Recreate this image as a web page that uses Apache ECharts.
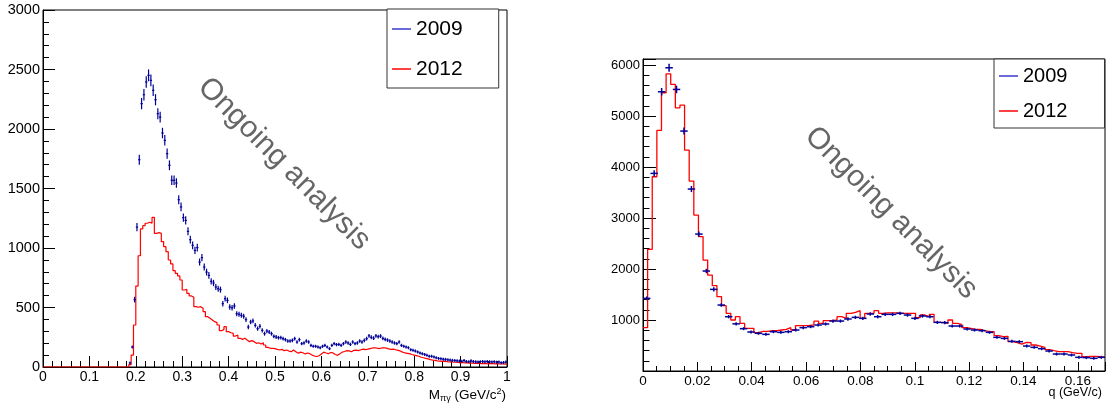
<!DOCTYPE html>
<html><head><meta charset="utf-8">
<script src="https://cdn.jsdelivr.net/npm/echarts@6/dist/echarts.min.js"></script>
<style>html,body{margin:0;padding:0;background:#fff}#c{width:1108px;height:407px}</style>
</head><body><div id="c"></div>
<script>
// ---------- DATA ----------
const seriesNames = ['2009', '2012'];
const massRange = [0, 1];          // M_pi gamma (GeV/c^2), 200 bins
const qRange = [0, 0.17];          // q (GeV/c)
const massTicks = ['0','0.1','0.2','0.3','0.4','0.5','0.6','0.7','0.8','0.9','1'];
const qTicks = ['0','0.02','0.04','0.06','0.08','0.1','0.12','0.14','0.16'];
const massCountTicks = ['0','500','1000','1500','2000','2500','3000'];
const qCountTicks = ['1000','2000','3000','4000','5000','6000'];

const mass2009 = [
0,0,0,0,0,0,0,0,0,0, 0,0,0,0,0,0,0,0,0,0, 0,0,0,0,0,0,0,0,0,0, 0,0,0,0,0,0,0,
34,168,566,
1176,1742,2213,2288,2395,2451,2409,2325,2246,2129,
2100,1966,1905,1793,1695,1569,1569,1546,1406,1345,
1255,1232,1140,1070,1022,980,1003,882,919,840,
798,770,720,706,672,658,650,532,574,560,
504,498,513,448,443,434,426,398,336,378,
387,350,322,342,308,280,302,294,280,258,
252,246,246,238,230,218,218,224,238,210,
230,196,202,218,210,182,174,174,168,162,
174,182,168,154,182,196,188,190,182,196,
210,202,190,210,196,202,218,210,224,238,
262,250,242,262,255,260,240,232,226,218,
210,202,196,210,182,174,168,162,146,140,
134,126,118,112,106,98,90,90,84,78,
72,70,66,64,60,58,56,54,52,50,
48,55,46,44,52,46,44,42,45,46,
44,46,44,42,45,40,42,36,38,42
];

const mass2012 = [
0,0,0,0,0,0,0,0,0,0, 0,0,0,0,0,0,0,0,0,0, 0,0,0,0,0,0,0,0,0,0, 0,0,0,0,0,0,0,
20,100,353,
680,935,1160,1188,1208,1216,1208,1258,1123,1129,
1123,1053,1011,969,899,866,810,787,765,731,
647,652,619,597,586,507,502,507,493,465,
423,409,395,381,373,353,305,316,339,297,
288,283,260,269,241,232,241,227,213,222,
213,199,204,193,204,185,165,157,157,154,
148,143,148,137,143,134,129,143,129,115,
125,120,110,118,112,100,92,88,95,110,
125,118,112,122,118,105,98,112,125,130,
138,135,128,140,142,138,145,150,146,150,
155,160,162,158,155,160,162,158,152,148,
150,145,140,135,125,118,115,112,105,100,
95,90,82,78,72,68,62,58,55,52,
50,48,50,45,42,44,40,40,38,35,
38,34,36,33,32,30,32,30,28,30,
29,27,30,28,26,28,25,27,24,26
];

const q2009 = [
1425,3876,5477,5948,5523,4706,3569,2686,1961,1601,
1294,1065,925,830,765,739,719,771,758,771,
804,850,869,902,922,980,980,1020,1052,1033,
1118,1065,1111,1111,1131,1098,1033,1079,1065,954,
948,882,882,824,804,791,758,660,640,582,
575,490,464,438,392,333,333,314,268,262,
249,268
];

const q2012 = [
849,2386,3810,4719,5458,5830,5621,5163,5216,4333,
3725,3059,2634,2176,1882,1673,1458,1281,1131,1000,
1065,935,837,837,752,778,778,790,790,804,
815,850,804,889,889,895,902,980,935,990,
990,1000,1065,1033,1131,1150,1183,1033,1131,1131,
1183,1131,1140,1140,1140,1131,1131,1131,1131,1046,
1098,1065,1111,954,954,935,1000,935,915,850,
837,817,817,791,771,771,693,673,680,575,
556,529,562,556,510,490,464,420,399,379,
379,379,360,346,346,281,288,288,281,275
];

// ---------- BUILD ----------
const FONT = "'Liberation Sans', Arial, Helvetica, sans-serif";
const BLUE = '#000099', RED = '#ff0000';

function stepData(vals, range) {
  const w = (range[1] - range[0]) / vals.length;
  const d = vals.map((v, i) => [range[0] + i * w, v]);
  d.push([range[1], vals[vals.length - 1]]);
  return d;
}
function pointData(vals, range) {
  const w = (range[1] - range[0]) / vals.length;
  const d = [];
  vals.forEach((v, i) => { if (v > 0) d.push([range[0] + (i + 0.5) * w, v]); });
  return { data: d, half: w / 2 };
}
function errRender(half, lw, minH) {
  return function (params, api) {
    const x = api.value(0), y = api.value(1);
    const c = api.coord([x, y]);
    const l = api.coord([x - half, y]), r = api.coord([x + half, y]);
    const e = Math.sqrt(y);
    const t = api.coord([x, y + e]), b = api.coord([x, y - e]);
    const hy = Math.max((b[1] - t[1]) / 2, minH);
    const st = { stroke: BLUE, lineWidth: lw };
    return { type: 'group', children: [
      { type: 'line', shape: { x1: l[0], y1: c[1], x2: r[0], y2: c[1] }, style: st },
      { type: 'line', shape: { x1: c[0], y1: c[1] - hy, x2: c[0], y2: c[1] + hy }, style: st }
    ]};
  };
}
const mP = pointData(mass2009, massRange);
const qP = pointData(q2009, qRange);

function tickFmt(list) {
  return function (v) {
    for (const s of list) if (Math.abs(parseFloat(s) - v) < 1e-9) return s;
    return '';
  };
}
const black = { color: '#000', width: 1 };

const chart = echarts.init(document.getElementById('c'), null, { renderer: 'canvas' });
chart.setOption({
  animation: false,
  backgroundColor: '#fff',
  textStyle: { fontFamily: FONT },
  grid: [
    { left: 43, top: 10, width: 464, height: 357, show: true, borderColor: '#000', borderWidth: 1, containLabel: false },
    { left: 643, top: 59, width: 462, height: 312, show: true, borderColor: '#000', borderWidth: 1, containLabel: false }
  ],
  xAxis: [
    { gridIndex: 0, type: 'value', position: 'bottom', min: massRange[0], max: massRange[1], interval: 0.1,
      axisLine: { show: true, lineStyle: black }, splitLine: { show: false },
      axisTick: { show: true, inside: true, length: 11, lineStyle: black },
      minorTick: { show: true, splitNumber: 5, length: 6, lineStyle: black },
      axisLabel: { fontSize: 14, color: '#000', margin: 3, fontFamily: FONT, formatter: tickFmt(massTicks) } },
    { gridIndex: 1, type: 'value', position: 'bottom', min: qRange[0], max: qRange[1], interval: 0.02,
      axisLine: { show: true, lineStyle: black }, splitLine: { show: false },
      axisTick: { show: true, inside: true, length: 9, lineStyle: black },
      axisLabel: { fontSize: 13.5, color: '#000', margin: 3, fontFamily: FONT, formatter: tickFmt(qTicks) } },
    { gridIndex: 1, type: 'value', position: 'bottom', min: qRange[0], max: qRange[1], interval: 0.005,
      axisLine: { show: false }, splitLine: { show: false },
      axisTick: { show: true, inside: true, length: 5, lineStyle: black },
      axisLabel: { show: false } }
  ],
  yAxis: [
    { gridIndex: 0, type: 'value', position: 'left', min: 0, max: 3000, interval: 500,
      axisLine: { show: true, lineStyle: black }, splitLine: { show: false },
      axisTick: { show: true, inside: true, length: 12, lineStyle: black },
      minorTick: { show: true, splitNumber: 5, length: 6, lineStyle: black },
      axisLabel: { fontSize: 14.5, color: '#000', margin: 3, fontFamily: FONT, formatter: tickFmt(massCountTicks) } },
    { gridIndex: 1, type: 'value', position: 'left', min: 0, max: 6120, interval: 1000,
      axisLine: { show: true, lineStyle: black }, splitLine: { show: false },
      axisTick: { show: true, inside: true, length: 13, lineStyle: black },
      axisLabel: { fontSize: 13, color: '#000', margin: 3, fontFamily: FONT, formatter: tickFmt(qCountTicks) } },
    { gridIndex: 1, type: 'value', position: 'left', min: 0, max: 6120, interval: 200,
      axisLine: { show: false }, splitLine: { show: false },
      axisTick: { show: true, inside: true, length: 6.5, lineStyle: black },
      axisLabel: { show: false } }
  ],
  legend: [
    { left: 387, top: 9, orient: 'vertical', data: [
        { name: seriesNames[0], itemStyle: { color: '#3a3acc' } },
        { name: seriesNames[1], itemStyle: { color: RED } } ],
      icon: 'rect', itemWidth: 19, itemHeight: 1.5, itemGap: 16,
      padding: [8, 36, 7, 5], borderColor: '#333', borderWidth: 1, backgroundColor: '#fff',
      selectedMode: false,
      textStyle: { fontSize: 21, color: '#000', lineHeight: 24, fontFamily: FONT } },
    { left: 994, top: 59, orient: 'vertical', data: [
        { name: seriesNames[0], itemStyle: { color: '#3a3acc' } },
        { name: seriesNames[1], itemStyle: { color: RED } } ],
      icon: 'rect', itemWidth: 19, itemHeight: 1.5, itemGap: 11,
      padding: [5, 37, 5, 5], borderColor: '#333', borderWidth: 1, backgroundColor: '#fff',
      selectedMode: false,
      textStyle: { fontSize: 20, color: '#000', lineHeight: 24, fontFamily: FONT } }
  ],
  series: [
    { name: seriesNames[1], type: 'line', xAxisIndex: 0, yAxisIndex: 0, step: 'end',
      data: stepData(mass2012, massRange), showSymbol: false, symbol: 'none',
      lineStyle: { color: RED, width: 1.2 }, itemStyle: { color: RED }, clip: true, z: 2 },
    { name: seriesNames[0], type: 'custom', xAxisIndex: 0, yAxisIndex: 0,
      data: mP.data, renderItem: errRender(mP.half, 1.2, 1.5), itemStyle: { color: BLUE },
      encode: { x: 0, y: 1 }, clip: true, z: 3 },
    { name: seriesNames[1], type: 'line', xAxisIndex: 1, yAxisIndex: 1, step: 'end',
      data: stepData(q2012, qRange), showSymbol: false, symbol: 'none',
      lineStyle: { color: RED, width: 1.3 }, itemStyle: { color: RED }, clip: true, z: 2 },
    { name: seriesNames[0], type: 'custom', xAxisIndex: 1, yAxisIndex: 1,
      data: qP.data, renderItem: errRender(qP.half, 1.5, 1.5), itemStyle: { color: BLUE },
      encode: { x: 0, y: 1 }, clip: true, z: 3 }
  ],
  graphic: [
    { type: 'text', x: 284, y: 164, rotation: -Math.PI / 4, z: 1,
      style: { text: 'Ongoing analysis', fontSize: 30, fontFamily: FONT, fill: '#666666',
               align: 'center', verticalAlign: 'middle' } },
    { type: 'text', x: 891, y: 213, rotation: -Math.PI / 4, z: 1,
      style: { text: 'Ongoing analysis', fontSize: 30, fontFamily: FONT, fill: '#666666',
               align: 'center', verticalAlign: 'middle' } },
    { type: 'text', x: 506, y: 395,
      style: { text: '{m|M}{s|πγ}{m| (GeV/c}{p|2}{m|)}', align: 'right', verticalAlign: 'middle',
        fontFamily: FONT, fill: '#000',
        rich: { m: { fontSize: 13.5, lineHeight: 16, fontFamily: FONT, fill: '#000' },
                s: { fontSize: 9, lineHeight: 9, verticalAlign: 'bottom', fontFamily: FONT, fill: '#000' },
                p: { fontSize: 9, lineHeight: 9, verticalAlign: 'top', fontFamily: FONT, fill: '#000' } } } },
    { type: 'text', x: 1102, y: 393,
      style: { text: 'q (GeV/c)', fontSize: 12.5, align: 'right', verticalAlign: 'middle', fontFamily: FONT, fill: '#000' } }
  ]
});
</script>
</body></html>
